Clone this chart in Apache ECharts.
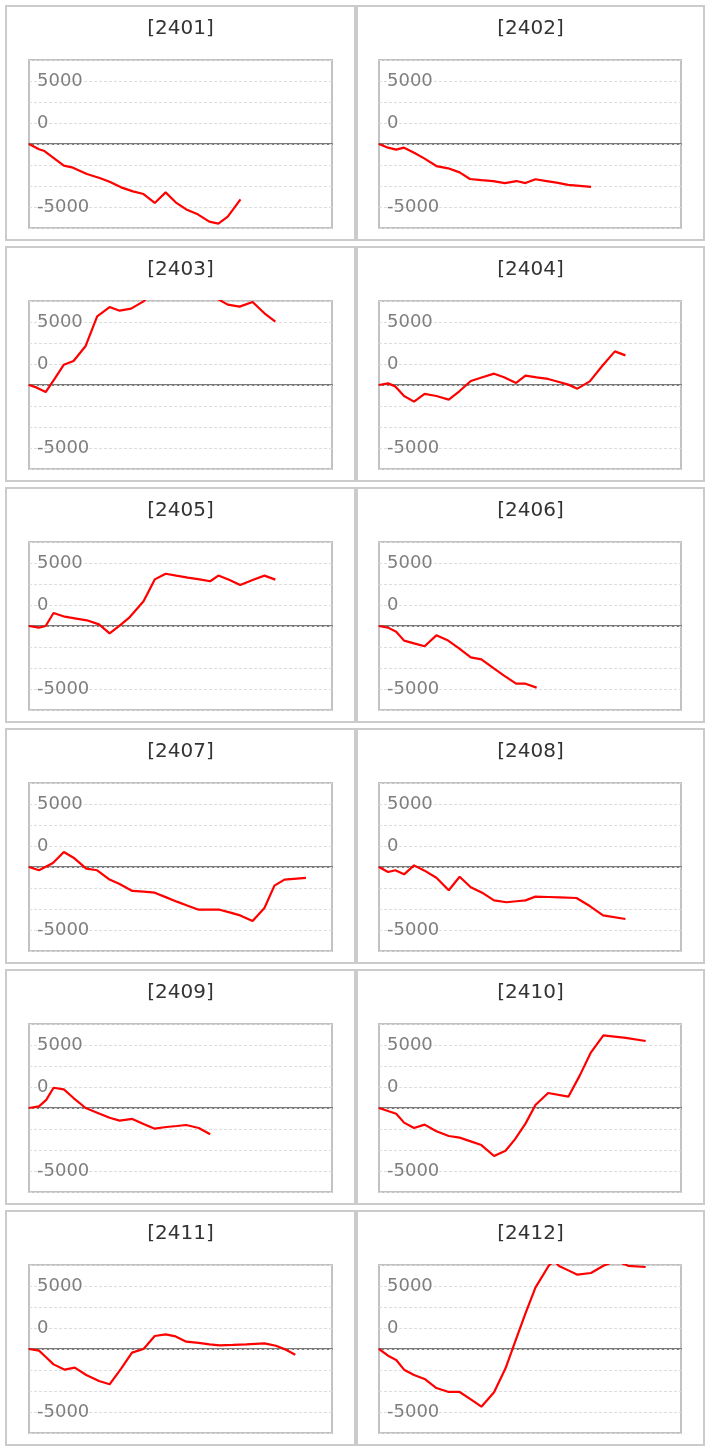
<!DOCTYPE html>
<html>
<head>
<meta charset="utf-8">
<script src="https://cdn.jsdelivr.net/npm/echarts@6/dist/echarts.min.js"></script>
<style>
html,body{margin:0;padding:0;background:#fff;}
#c{width:708px;height:1449px;}
</style>
</head>
<body>
<div id="c"></div>
<script>
// ---- data ----
const panelNames = ['2401','2402','2403','2404','2405','2406','2407','2408','2409','2410','2411','2412'];
// y-axis tick labels and the gridline level (in gridline steps from the zero line) where each is drawn
const yLabelTexts = ['5000', '0', '-5000'];
const yLabelLevels = [3, 1, -3];
const X_MAX = 100;

const s2401 = [[0,0],[3.3,-420],[5.1,-560],[11.5,-1720],[14.5,-1880],[19.1,-2380],[23.3,-2700],[26.6,-2990],[30.4,-3440],[34.3,-3760],[37.8,-3970],[41.5,-4680],[45.1,-3840],[48.4,-4630],[51.9,-5190],[55.7,-5580],[59.5,-6160],[62.5,-6320],[65.6,-5770],[69.8,-4390]];
const s2402 = [[0,0],[3.0,-290],[5.7,-450],[8.3,-290],[11.8,-710],[15.1,-1160],[19.0,-1750],[22.9,-1930],[26.7,-2250],[30.1,-2780],[33.9,-2860],[37.8,-2940],[41.7,-3100],[45.5,-2940],[48.5,-3100],[51.8,-2800],[55.5,-2940],[58.8,-3070],[62.6,-3250],[66.5,-3330],[70.2,-3410]];
const s2403 = [[0,0],[2.6,-210],[5.5,-560],[8.5,500],[11.5,1610],[14.7,1910],[18.7,3100],[22.5,5450],[26.6,6190],[29.9,5900],[33.7,6060],[37.8,6640],[41.5,7500],[46.0,8200],[50.0,7800],[54.0,8500],[58.0,7900],[61.0,7000],[65.6,6380],[69.5,6220],[73.8,6590],[77.7,5690],[81.3,5030]];
const s2404 = [[0,0],[3.0,130],[5.4,-110],[8.3,-870],[11.6,-1320],[15.1,-710],[19.0,-870],[23.1,-1160],[26.7,-480],[30.4,320],[34.5,640],[38.1,900],[41.4,610],[45.4,160],[48.5,740],[52.2,610],[56.0,480],[59.6,240],[62.7,30],[65.7,-290],[69.8,290],[73.9,1510],[78.1,2670],[81.6,2350]];
const s2405 = [[0,0],[3.3,-130],[5.5,0],[8.1,1030],[11.8,740],[15.1,610],[19.1,450],[23.1,130],[26.6,-580],[29.9,30],[33.2,690],[37.8,1960],[41.5,3700],[45.1,4150],[48.6,4000],[52.4,3840],[56.3,3700],[59.8,3550],[62.5,4000],[66.2,3650],[69.7,3250],[73.8,3650],[77.7,4000],[81.3,3680]];
const s2406 = [[0,0],[3.0,-130],[5.7,-450],[8.3,-1160],[11.6,-1380],[15.1,-1610],[19.0,-740],[22.9,-1160],[26.4,-1750],[30.4,-2490],[33.9,-2650],[37.8,-3330],[41.4,-3940],[45.4,-4580],[48.5,-4580],[52.2,-4890]];
const s2407 = [[0,0],[3.3,-260],[7.9,320],[11.5,1190],[14.7,740],[18.9,-130],[22.5,-260],[26.6,-1000],[29.9,-1350],[34.1,-1900],[37.8,-1960],[41.5,-2040],[45.3,-2410],[48.8,-2750],[52.4,-3070],[56.0,-3390],[59.8,-3390],[62.9,-3390],[66.2,-3600],[69.7,-3840],[73.8,-4290],[77.7,-3250],[81.0,-1480],[84.3,-1000],[91.4,-870]];
const s2408 = [[0,0],[3.0,-400],[5.4,-260],[8.3,-580],[11.6,130],[15.1,-290],[19.0,-850],[23.1,-1850],[26.7,-770],[30.4,-1610],[34.5,-2090],[38.1,-2650],[42.2,-2800],[45.5,-2720],[48.5,-2650],[51.8,-2350],[56.0,-2380],[59.9,-2410],[65.4,-2460],[69.8,-3100],[74.2,-3840],[81.6,-4130]];
const s2409 = [[0,0],[3.3,130],[5.7,640],[8.1,1610],[11.5,1480],[14.7,790],[18.7,0],[22.5,-370],[26.6,-770],[29.9,-1000],[34.1,-870],[37.8,-1270],[41.5,-1640],[45.3,-1510],[48.8,-1430],[51.9,-1350],[56.0,-1590],[59.8,-2090]];
const s2410 = [[0,0],[5.7,-450],[8.3,-1160],[11.6,-1590],[15.1,-1320],[19.0,-1850],[23.1,-2220],[26.7,-2350],[30.4,-2650],[33.9,-2940],[38.1,-3810],[41.9,-3390],[45.0,-2490],[48.5,-1240],[51.8,240],[56.0,1190],[62.7,900],[66.5,2590],[70.2,4420],[74.3,5770],[81.7,5560],[88.3,5320]];
const s2411 = [[0,0],[3.3,-130],[5.2,-560],[8.1,-1220],[11.8,-1640],[15.1,-1480],[18.9,-2060],[23.1,-2540],[26.6,-2800],[30.4,-1560],[34.0,-290],[37.8,0],[41.5,1030],[45.1,1160],[48.4,1000],[51.9,580],[56.0,480],[59.6,370],[62.9,290],[67.3,320],[71.7,370],[77.7,450],[81.5,260],[84.3,0],[87.9,-450]];
const s2412 = [[0,0],[3.0,-530],[5.7,-870],[8.3,-1640],[11.6,-2060],[15.1,-2380],[19.0,-3100],[23.1,-3410],[26.7,-3410],[30.4,-4000],[33.9,-4580],[38.1,-3440],[41.9,-1530],[45.0,530],[48.5,2830],[51.8,4870],[56.2,6610],[58.0,7000],[59.6,6590],[62.7,6240],[65.7,5900],[70.2,6030],[74.3,6610],[78.5,7000],[82.5,6600],[88.3,6510]];
const seriesData = [s2401,s2402,s2403,s2404,s2405,s2406,s2407,s2408,s2409,s2410,s2411,s2412];

// ---- layout / styles ----
const STEP = 5000 / 3;           // one gridline step in data units
const FONT = '"DejaVu Sans", Verdana, sans-serif';
const chart = echarts.init(document.getElementById('c'), null, {renderer: 'canvas'});

const grids = [], xAxes = [], yAxes = [], series = [], graphics = [];
panelNames.forEach((name, i) => {
  const col = i % 2, row = Math.floor(i / 2);
  const pLeft = col === 0 ? 6 : 357;
  const pWidth = col === 0 ? 349 : 347;
  const pTop = 6 + row * 241;
  const pHeight = 234;
  graphics.push({
    type: 'rect', shape: {x: pLeft, y: pTop, width: pWidth, height: pHeight},
    style: {fill: '#fff', stroke: '#cbcbcb', lineWidth: 2}, z: -10
  });
  graphics.push({
    type: 'text', x: pLeft + pWidth / 2, y: pTop + 23,
    style: {text: '[' + name + ']', font: '20px ' + FONT, fill: '#333', align: 'center', verticalAlign: 'middle'}
  });
  grids.push({
    left: col === 0 ? 29 : 379, top: pTop + 54, width: col === 0 ? 303 : 302, height: 168,
    show: true, borderColor: '#c2c2c2', borderWidth: 2, backgroundColor: '#fff', containLabel: false
  });
  xAxes.push({
    type: 'value', gridIndex: i, min: 0, max: X_MAX,
    axisLine: {show: true, onZero: true, lineStyle: {color: '#7a7a7a', width: 2}},
    axisTick: {show: false}, axisLabel: {show: false}, splitLine: {show: false}
  });
  yAxes.push({
    type: 'value', gridIndex: i, min: -4 * STEP, max: 4 * STEP, interval: STEP,
    axisLine: {show: false}, axisTick: {show: false},
    splitLine: {show: true, lineStyle: {color: '#dddddd', type: [3, 2], width: 1}},
    axisLabel: {
      show: true, inside: true, margin: 8, color: '#7f7f7f',
      fontSize: 18, fontFamily: FONT, verticalAlign: 'middle', padding: [3, 0, 0, 0],
      showMinLabel: true, showMaxLabel: true,
      formatter: function (v) {
        const lvl = Math.round(v / STEP);
        const k = yLabelLevels.indexOf(lvl);
        return k >= 0 ? yLabelTexts[k] : '';
      }
    },
    z: 3
  });
  series.push({
    type: 'line', xAxisIndex: i, yAxisIndex: i, data: seriesData[i],
    showSymbol: false, symbol: 'none', clip: true, silent: true,
    lineStyle: {color: '#ff0000', width: 2.2}, animation: false, z: 5
  });
});

chart.setOption({
  animation: false,
  backgroundColor: '#ffffff',
  grid: grids, xAxis: xAxes, yAxis: yAxes, series: series,
  graphic: graphics
});
</script>
</body>
</html>
